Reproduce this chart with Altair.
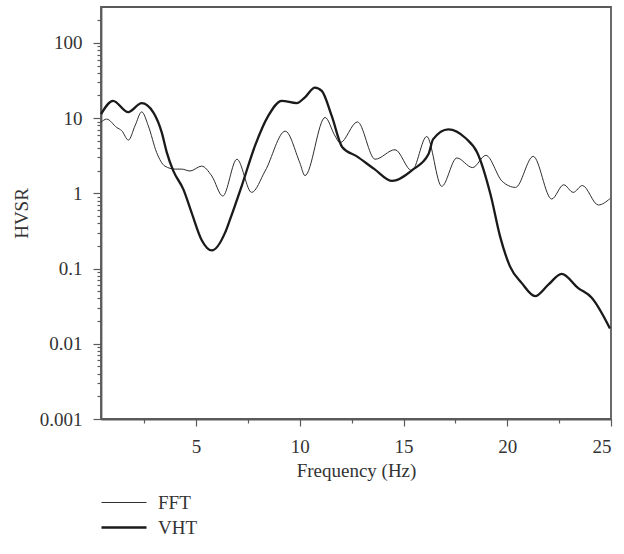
import altair as alt
import pandas as pd

# HVSR curves (frequency in Hz, H/V spectral ratio)
fft_freq = [0.42, 0.69, 1.18, 1.42, 1.74, 2.06, 2.38, 2.7, 3.1, 3.5, 3.99, 4.31, 4.71,
            5.27, 5.76, 6.29, 6.97, 7.68, 8.33, 9.3, 10.0, 10.25, 11.22, 11.7, 11.94,
            12.78, 13.63, 14.59, 15.4, 16.12, 16.84, 17.57, 18.33, 18.97, 19.75, 20.4,
            21.25, 22.14, 22.72, 23.18, 23.62, 24.39, 24.95]
fft_hvsr = [8.8, 9.7, 7.5, 6.8, 5.1, 7.9, 12.1, 7.9, 3.5, 2.3, 2.1, 2.1, 1.98,
            2.3, 1.7, 0.92, 2.84, 1.03, 1.98, 6.7, 2.56, 1.72, 10.2, 5.8, 4.7,
            8.9, 2.84, 3.8, 2.0, 5.7, 1.24, 2.95, 2.2, 3.2, 1.45, 1.2,
            3.1, 0.84, 1.3, 1.03, 1.27, 0.7, 0.85]

vht_freq = [0.42, 1.0, 1.73, 2.38, 2.94, 3.35, 3.59, 3.9, 4.39, 4.79, 5.27, 5.76, 6.4,
            6.64, 7.2, 7.84, 8.48, 9.13, 9.85, 10.25, 10.73, 11.06, 11.54, 12.05, 12.75,
            13.6, 14.45, 15.43, 16.2, 16.43, 17.16, 18.0, 18.55, 19.2, 19.65, 20.13, 20.7,
            21.34, 21.98, 22.62, 23.42, 24.07, 24.95]
vht_hvsr = [11.3, 17.0, 12.0, 15.8, 11.9, 6.4, 3.5, 2.0, 1.13, 0.55, 0.24, 0.174, 0.30,
            0.45, 1.25, 4.27, 10.7, 17.0, 15.8, 18.9, 25.5, 23.0, 10.7, 4.1, 3.1,
            2.1, 1.46, 2.05, 3.3, 5.25, 7.1, 5.4, 3.5, 0.95, 0.27, 0.107, 0.064,
            0.043, 0.061, 0.085, 0.055, 0.041, 0.016]

series_names = ["FFT", "VHT"]

x_major = [5, 10, 15, 20, 25]
x_minor = [2.5, 7.5, 12.5, 17.5, 22.5]
y_major = [0.001, 0.01, 0.1, 1, 10, 100]
y_minor = [m * d for d in [0.001, 0.01, 0.1, 1, 10] for m in range(2, 10)] + [200]

df = pd.concat([
    pd.DataFrame({"freq": fft_freq, "hvsr": fft_hvsr, "series": "FFT"}),
    pd.DataFrame({"freq": vht_freq, "hvsr": vht_hvsr, "series": "VHT"}),
])

FONT = "Liberation Serif, Times New Roman, serif"
FS = 19
AXIS_COLOR = "#5a5a5a"
TEXT_COLOR = "#333333"

x_scale = alt.Scale(domain=[0.42, 25], nice=False, zero=False)
y_scale = alt.Scale(type="log", domain=[0.001, 300], nice=False)

label_expr = "datum.value >= 1 ? format(datum.value, 'd') : format(datum.value, '')"

legend = alt.Legend(title=None, orient="none", legendX=-1, legendY=486,
                    symbolType="M-1,0L4,0", symbolSize=324,
                    labelFont=FONT, labelFontSize=FS, labelColor=TEXT_COLOR,
                    labelOffset=37, rowPadding=4, padding=0)

curves = alt.Chart(df).mark_line(interpolate="monotone").encode(
    x=alt.X("freq:Q", scale=x_scale,
            axis=alt.Axis(orient="bottom", values=x_major, tickSize=7, tickWidth=1.2,
                          tickColor=AXIS_COLOR, domainColor=AXIS_COLOR, domainWidth=1.8,
                          labelFont=FONT, labelFontSize=FS, labelColor=TEXT_COLOR,
                          labelPadding=11, title="Frequency (Hz)", titleFont=FONT,
                          titleFontSize=FS, titleFontWeight="normal", titleColor=TEXT_COLOR,
                          titlePadding=5, grid=False)),
    y=alt.Y("hvsr:Q", scale=y_scale,
            axis=alt.Axis(orient="left", values=y_major, tickSize=8, tickWidth=1.2,
                          tickColor=AXIS_COLOR, domainColor=AXIS_COLOR, domainWidth=1.8,
                          labelFont=FONT, labelFontSize=FS, labelColor=TEXT_COLOR,
                          labelPadding=11, labelExpr=label_expr,
                          title="HVSR", titleFont=FONT, titleFontSize=FS,
                          titleFontWeight="normal", titleColor=TEXT_COLOR, titlePadding=8,
                          grid=False)),
    color=alt.Color("series:N", scale=alt.Scale(domain=series_names, range=["#2e2e2e", "#1a1a1a"]),
                    legend=legend),
    strokeWidth=alt.StrokeWidth("series:N", scale=alt.Scale(domain=series_names, range=[1.0, 2.3]),
                                legend=legend),
)

# Minor ticks on both axes, drawn by a second, invisible layer
minor = alt.Chart(df).mark_point(opacity=0).encode(
    x=alt.X("freq:Q", scale=x_scale,
            axis=alt.Axis(orient="bottom", values=x_minor, tickSize=4, tickWidth=1.2,
                          tickColor=AXIS_COLOR, domain=False, labels=False, title=None,
                          grid=False)),
    y=alt.Y("hvsr:Q", scale=y_scale,
            axis=alt.Axis(orient="left", values=y_minor, tickSize=4, tickWidth=1.2,
                          tickColor=AXIS_COLOR, domain=False, labels=False, title=None,
                          grid=False)),
)

chart = alt.layer(minor, curves).resolve_axis(
    x="independent", y="independent"
).properties(
    width=510, height=412,
    autosize=alt.AutoSizeParams(type="none"),
    padding={"left": 101, "top": 7, "right": 13, "bottom": 135},
    background="white",
).configure(font=FONT).configure_view(stroke=AXIS_COLOR, strokeWidth=1.8)

chart.save("out.html", embed_options={"renderer": "svg", "actions": False})
